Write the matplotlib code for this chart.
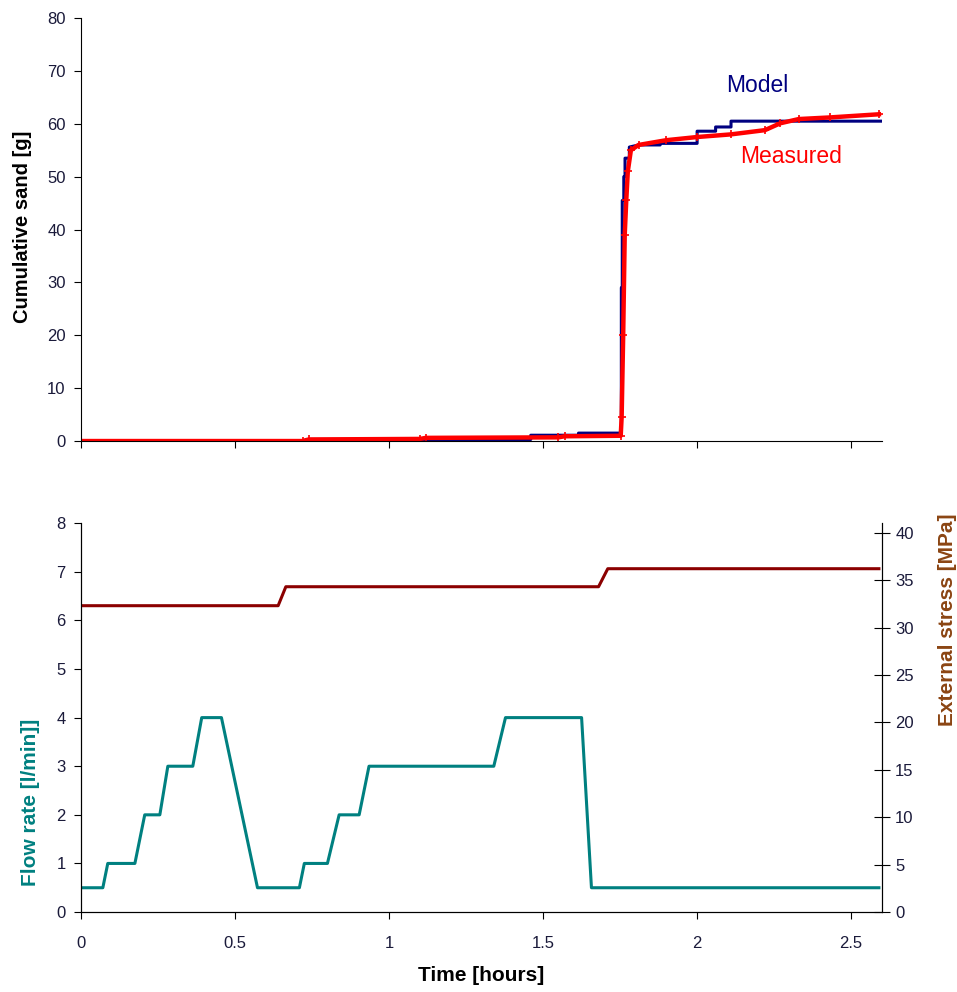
import numpy as np
import matplotlib
matplotlib.use("Agg")
import matplotlib.pyplot as plt

plt.rcParams['font.family'] = ['Liberation Sans', 'DejaVu Sans']

# cumulative sand production [g]
t_meas = [0, 0.72, 0.74, 1.10, 1.12, 1.55, 1.57, 1.752, 1.755, 1.760, 1.765, 1.770,
          1.775, 1.785, 1.81, 1.90, 2.00, 2.11, 2.22, 2.27, 2.33, 2.43, 2.59]
sand_meas = [0, 0, 0.3, 0.4, 0.6, 0.7, 0.9, 1.0, 4.5, 20, 39, 45.5,
             51, 55, 56, 56.9, 57.5, 58.0, 58.8, 60.1, 60.9, 61.2, 61.8]
t_model = [0, 0.73, 0.73, 1.46, 1.46, 1.615, 1.615, 1.754, 1.754, 1.757, 1.757, 1.762, 1.762,
           1.766, 1.766, 1.78, 1.78, 1.81, 1.88, 1.88, 2.0, 2.0, 2.06, 2.06, 2.11, 2.11, 2.6]
sand_model = [0, 0, 0.3, 0.3, 1.1, 1.1, 1.5, 1.5, 29, 29, 45.5, 45.5, 50,
              50, 53.5, 53.5, 55.6, 56.0, 56.0, 56.3, 56.3, 58.6, 58.6, 59.4, 59.4, 60.5, 60.5]

# flow rate [l/min]
t_flow = [0, 0.071, 0.087, 0.175, 0.207, 0.256, 0.282, 0.363, 0.392, 0.456, 0.573,
          0.709, 0.725, 0.800, 0.838, 0.903, 0.935, 1.340, 1.378, 1.625, 1.657, 2.59]
flow = [0.5, 0.5, 1.0, 1.0, 2.0, 2.0, 3.0, 3.0, 4.0, 4.0, 0.5,
        0.5, 1.0, 1.0, 2.0, 2.0, 3.0, 3.0, 4.0, 4.0, 0.5, 0.5]

# external stress [MPa]
t_stress = [0, 0.64, 0.665, 1.68, 1.71, 2.59]
stress = [32.3, 32.3, 34.3, 34.3, 36.2, 36.2]

xticks = [0, 0.5, 1, 1.5, 2, 2.5]
xticklabels = ['0', '0.5', '1', '1.5', '2', '2.5']

navy = '#000080'
red = '#FF0000'
teal = '#008080'
darkred = '#8B0000'
brown = '#8B4513'
tickc = '#1a1a3a'

fig = plt.figure(figsize=(9.57, 9.92), dpi=100)
ax1 = fig.add_axes([0.0846, 0.5554, 0.837, 0.4264])
ax2 = fig.add_axes([0.0846, 0.0806, 0.837, 0.392])
ax3 = ax2.twinx()

# top panel
ax1.plot(t_model, sand_model, color=navy, lw=2.2)
ax1.plot(t_meas, sand_meas, color=red, lw=3.2, marker='+', ms=6, mew=1.2)
ax1.set_xlim(0, 2.6)
ax1.set_ylim(0, 80)
ax1.set_yticks(range(0, 81, 10))
ax1.set_xticks(xticks)
ax1.set_xticklabels([])
ax1.spines['top'].set_visible(False)
ax1.spines['right'].set_visible(False)
ax1.tick_params(direction='out', length=5, labelsize=12, labelcolor=tickc, pad=6)
ax1.set_ylabel('Cumulative sand [g]', fontsize=14.5, fontweight='bold')
ax1.yaxis.set_label_coords(-0.061, 0.506)
ax1.text(2.094, 66, 'Model', color=navy, fontsize=16.5)
ax1.text(2.139, 52.5, 'Measured', color=red, fontsize=16.5)

# bottom panel
ax2.plot(t_flow, flow, color=teal, lw=2.2)
ax3.plot(t_stress, stress, color=darkred, lw=2.2)
ax2.set_xlim(0, 2.6)
ax2.set_ylim(0, 8)
ax3.set_ylim(0, 41)
ax3.set_yticks(range(0, 41, 5))
ax2.set_xticks(xticks)
ax2.set_xticklabels(xticklabels)
ax2.spines['top'].set_visible(False)
ax3.spines['top'].set_visible(False)
ax2.tick_params(axis='y', direction='out', length=5, labelsize=12, labelcolor=tickc, pad=6)
ax2.tick_params(axis='x', direction='out', length=5, labelsize=12, labelcolor=tickc, pad=12)
ax3.tick_params(direction='inout', length=11, labelsize=12, labelcolor=tickc, pad=4)
ax2.set_ylabel('Flow rate [l/min]]', fontsize=15, fontweight='bold', color=teal)
ax2.yaxis.set_label_coords(-0.051, 0.283)
ax3.set_ylabel('External stress [MPa]', fontsize=15, fontweight='bold', color=brown)
ax3.yaxis.set_label_coords(1.07, 0.752)
ax2.set_xlabel('Time [hours]', fontsize=15, fontweight='bold')
ax2.xaxis.set_label_coords(0.5, -0.139)

fig.savefig('out.png', dpi=100)
